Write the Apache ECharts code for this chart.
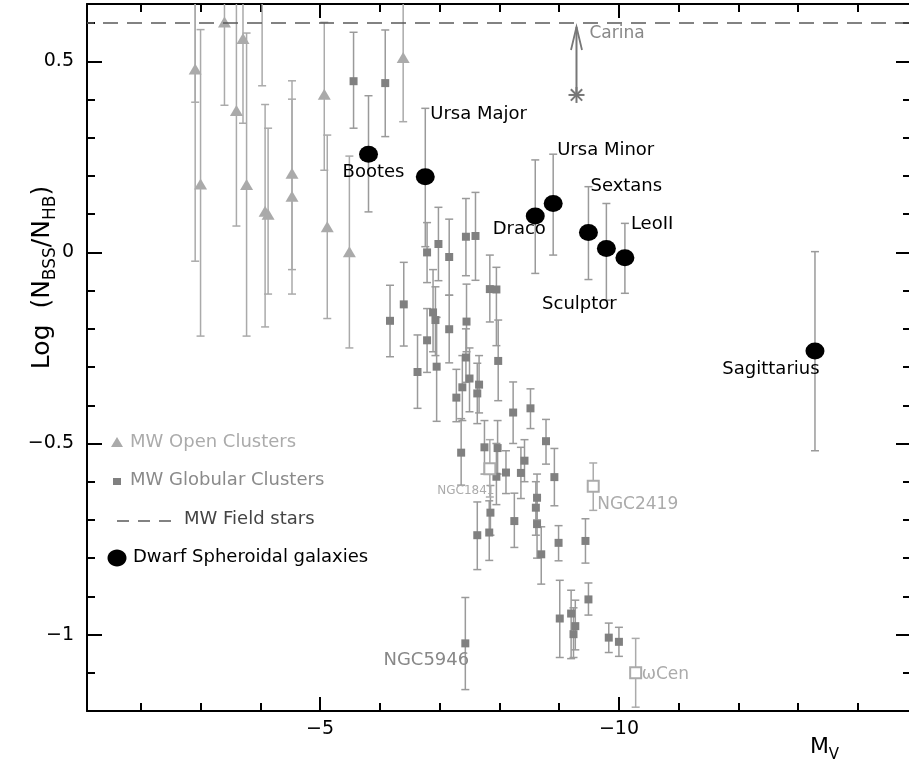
<!DOCTYPE html>
<html><head><meta charset="utf-8">
<script src="https://cdn.jsdelivr.net/npm/echarts@6/dist/echarts.min.js"></script>
<style>html,body{margin:0;padding:0;background:#fff}#c{width:909px;height:760px}</style>
</head><body><div id="c"></div>
<script>
// ---------- DATA ----------
// MW open clusters (triangles): Mv, log ratio, lower and upper error
const ocX  = [-2.91, -2.91, -3.00, -3.40, -3.60, -3.71, -3.77, -4.03, -4.08, -4.13, -4.53, -4.53, -5.07, -5.12, -5.49, -6.39];
const ocY  = [0.480, 0.750, 0.179, 0.603, 0.371, 0.560, 0.178, 0.720, 0.108, 0.100, 0.207, 0.147, 0.414, 0.067, 0.002, 0.510];
const ocLo = [-0.023, 0.393, -0.219, 0.385, 0.069, 0.338, -0.219, 0.436, -0.195, -0.109, -0.045, -0.109, 0.215, -0.173, -0.250, 0.342];
const ocHi = [0.980, 1.100, 0.583, 0.820, 0.670, 0.780, 0.574, 1.000, 0.387, 0.325, 0.449, 0.401, 0.602, 0.307, 0.252, 0.680];

// MW globular clusters (filled squares)
const gcX  = [-5.56, -6.09, -6.17, -6.40, -6.63, -6.79, -6.98, -7.16, -7.16, -7.44, -7.60, -7.45, -6.89, -6.93, -6.79, -6.95, -7.28, -7.38, -7.50, -7.63, -7.66, -7.98, -7.84, -7.95, -8.23, -8.52, -8.78, -8.92, -7.36, -7.75, -7.97, -7.95, -8.11, -8.36, -8.42, -8.63, -8.61, -8.63, -8.25, -7.85, -7.83, -7.63, -8.70, -8.99, -9.44, -9.49, -9.01, -9.20, -9.27, -9.24, -9.83, -10.00, -7.44];
const gcY  = [0.448, 0.443, -0.179, -0.136, -0.313, 0.000, 0.022, -0.012, -0.201, 0.041, 0.043, -0.181, -0.157, -0.177, -0.230, -0.299, -0.380, -0.353, -0.330, -0.369, -0.346, -0.284, -0.096, -0.097, -0.419, -0.408, -0.494, -0.588, -0.524, -0.510, -0.512, -0.587, -0.576, -0.577, -0.545, -0.642, -0.668, -0.711, -0.703, -0.681, -0.733, -0.740, -0.790, -0.760, -0.755, -0.908, -0.958, -0.945, -0.978, -0.999, -1.008, -1.019, -0.275];
const gcLo = [0.325, 0.303, -0.273, -0.245, -0.408, -0.079, -0.074, -0.112, -0.289, -0.061, -0.073, -0.260, -0.260, -0.270, -0.314, -0.442, -0.443, -0.440, -0.417, -0.448, -0.420, -0.388, -0.182, -0.244, -0.500, -0.461, -0.554, -0.663, -0.609, -0.580, -0.580, -0.660, -0.631, -0.644, -0.600, -0.700, -0.740, -0.800, -0.772, -0.740, -0.806, -0.830, -0.868, -0.807, -0.813, -0.949, -1.060, -1.063, -1.040, -1.060, -1.047, -1.057, -0.340];
const gcHi = [0.576, 0.582, -0.086, -0.026, -0.216, 0.078, 0.118, 0.087, -0.112, 0.141, 0.157, -0.083, -0.045, -0.090, -0.147, -0.170, -0.306, -0.270, -0.250, -0.290, -0.270, -0.177, -0.007, -0.039, -0.339, -0.357, -0.437, -0.513, -0.435, -0.440, -0.440, -0.500, -0.519, -0.510, -0.490, -0.580, -0.600, -0.640, -0.630, -0.610, -0.650, -0.653, -0.718, -0.715, -0.697, -0.865, -0.858, -0.884, -0.910, -0.930, -0.970, -0.981, -0.200];

// Named filled globular cluster
const namedGcNames = ['NGC5946'];
const namedGcX  = [-7.43];
const namedGcY  = [-1.023];
const namedGcLo = [-1.144];
const namedGcHi = [-0.903];

// Named open-symbol clusters
const openGcNames = ['NGC1841', 'NGC2419', 'ωCen'];
const openGcX  = [-7.84, -9.57, -10.28];
const openGcY  = [-0.566, -0.612, -1.100];
const openGcLo = [-0.640, -0.675, -1.190];
const openGcHi = [-0.490, -0.551, -1.010];

// Dwarf spheroidal galaxies
const dsphNames = ['Bootes', 'Ursa Major', 'Draco', 'Ursa Minor', 'Sextans', 'Sculptor', 'LeoII', 'Sagittarius'];
const dsphX  = [-5.81, -6.76, -8.60, -8.90, -9.49, -9.79, -10.10, -13.28];
const dsphY  = [0.257, 0.198, 0.095, 0.128, 0.052, 0.010, -0.014, -0.258];
const dsphLo = [0.106, 0.015, -0.055, -0.007, -0.071, -0.125, -0.107, -0.519];
const dsphHi = [0.410, 0.377, 0.242, 0.257, 0.172, 0.128, 0.076, 0.002];

// Carina (lower limit)
const carinaName = 'Carina';
const carinaX = [-9.29];
const carinaY = [0.412];
const carinaLimit = [0.59];

// MW field stars level
const fieldStarsLevel = 0.6;

// Axis ticks
const xMajorTicks = [-5, -10];
const xMinorTicks = [-2, -3, -4, -6, -7, -8, -9, -11, -12, -13, -14];
const yMajorTicks = [-1, -0.5, 0, 0.5];
const yMinorTicks = [-1.1, -0.9, -0.8, -0.7, -0.6, -0.4, -0.3, -0.2, -0.1, 0.1, 0.2, 0.3, 0.4, 0.6];

// ---------- STYLE / LAYOUT ----------
const X_MIN = -14.87, X_MAX = -1.10, Y_MIN = -1.2, Y_MAX = 0.65;
const FONT = 'DejaVu Sans';
const OC_COLOR = '#aaaaaa', GC_COLOR = '#808080', GC_BAR = '#9a9a9a', LIGHT = '#ababab';

const dsphLabelStyle = [
  {align: 'center', offset: [5, 18]},
  {align: 'left', offset: [5, -62]},
  {align: 'center', offset: [-16, 13]},
  {align: 'left', offset: [4, -53]},
  {align: 'left', offset: [2, -46]},
  {align: 'center', offset: [-27, 56]},
  {align: 'left', offset: [6, -33]},
  {align: 'center', offset: [-44, 18]}
];
const openGcLabelStyle = [
  {align: 'center', offset: [-24, 22], fontSize: 12},
  {align: 'left', offset: [4, 18], fontSize: 17},
  {align: 'left', offset: [6, 2], fontSize: 17}
];
const namedGcLabelStyle = [{align: 'center', offset: [-39, 17], fontSize: 18}];

const minus = v => String(v).replace('-', '\u2212');

function xAx(pos, ticks, len, showLine, showLabel, extra) {
  return Object.assign({
    type: 'value', gridIndex: 0, position: pos, min: X_MIN, max: X_MAX, inverse: true,
    axisLine: {show: showLine, onZero: false, lineStyle: {color: '#000', width: 2}},
    axisTick: {show: true, inside: true, length: len, customValues: ticks, lineStyle: {color: '#000', width: 2}},
    axisLabel: {show: showLabel, customValues: ticks, formatter: minus, color: '#000', fontSize: 19, fontFamily: FONT, margin: 9},
    splitLine: {show: false}
  }, extra || {});
}
function yAx(pos, ticks, len, showLine, showLabel, extra) {
  return Object.assign({
    type: 'value', gridIndex: 0, position: pos, min: Y_MIN, max: Y_MAX,
    axisLine: {show: showLine, onZero: false, lineStyle: {color: '#000', width: 2}},
    axisTick: {show: true, inside: true, length: len, customValues: ticks, lineStyle: {color: '#000', width: 2}},
    axisLabel: {show: showLabel, customValues: ticks, formatter: minus, color: '#000', fontSize: 19, fontFamily: FONT, margin: 13},
    splitLine: {show: false}
  }, extra || {});
}

function errSeries(xs, lo, hi, color, z) {
  return {
    type: 'custom', clip: true, z: z, silent: true,
    data: xs.map((x, i) => [x, lo[i], hi[i]]),
    encode: {x: 0, y: [1, 2]},
    renderItem: function (params, api) {
      const x = api.value(0);
      const p1 = api.coord([x, api.value(2)]);
      const p2 = api.coord([x, api.value(1)]);
      const w = 4, st = {stroke: color, lineWidth: 1.5};
      return {type: 'group', children: [
        {type: 'line', shape: {x1: p1[0], y1: p1[1], x2: p2[0], y2: p2[1]}, style: st},
        {type: 'line', shape: {x1: p1[0] - w, y1: p1[1], x2: p1[0] + w, y2: p1[1]}, style: st},
        {type: 'line', shape: {x1: p2[0] - w, y1: p2[1], x2: p2[0] + w, y2: p2[1]}, style: st}
      ]};
    }
  };
}

function labeled(names, xs, ys, styles, color) {
  return xs.map((x, i) => ({
    value: [x, ys[i]],
    label: {show: true, position: 'inside', formatter: names[i], align: styles[i].align,
      verticalAlign: 'middle', offset: styles[i].offset, color: color,
      fontSize: styles[i].fontSize || 18, fontFamily: FONT}
  }));
}

const chart = echarts.init(document.getElementById('c'), null, {renderer: 'canvas'});
chart.setOption({
  animation: false,
  backgroundColor: '#fff',
  grid: {left: 87, top: 4, right: -1, bottom: 49, containLabel: false, outerBoundsMode: 'none'},
  xAxis: [
    xAx('bottom', xMajorTicks, 14, true, true, {
      name: '{m|M}{v|V}', nameLocation: 'middle', nameGap: 20, nameMoveOverlap: false,
      nameTextStyle: {padding: [0, 0, 0, 652], rich: {
        m: {fontSize: 22, fontFamily: FONT, color: '#000', lineHeight: 32, verticalAlign: 'middle'},
        v: {fontSize: 15, fontFamily: FONT, color: '#000', lineHeight: 32, verticalAlign: 'bottom'}
      }}
    }),
    xAx('bottom', xMinorTicks, 8, false, false),
    xAx('top', xMajorTicks, 14, true, false),
    xAx('top', xMinorTicks, 8, false, false)
  ],
  yAxis: [
    yAx('left', yMajorTicks, 15, true, true, {
      name: '{n|Log  (N}{s|BSS}{n|/N}{s|HB}{n|)}', nameLocation: 'middle', nameRotate: 90, nameGap: 28, nameMoveOverlap: false,
      nameTextStyle: {padding: [0, 0, 0, 160], rich: {
        n: {fontSize: 25, fontFamily: FONT, color: '#000', lineHeight: 34, verticalAlign: 'middle'},
        s: {fontSize: 17, fontFamily: FONT, color: '#000', lineHeight: 34, verticalAlign: 'bottom'}
      }}
    }),
    yAx('left', yMinorTicks, 8, false, false),
    yAx('right', yMajorTicks, 14, false, false),
    yAx('right', yMinorTicks, 7, false, false)
  ],
  series: [
    errSeries(ocX, ocLo, ocHi, OC_COLOR, 1),
    {type: 'scatter', z: 2, silent: true, clip: true, symbol: 'triangle', symbolSize: [13, 11],
      itemStyle: {color: OC_COLOR, opacity: 1},
      data: ocX.map((x, i) => [x, ocY[i]]),
      markLine: {silent: true, symbol: 'none', label: {show: false},
        lineStyle: {color: '#5a5a5a', type: [15, 9], width: 1.5},
        data: [{yAxis: fieldStarsLevel}]}},
    errSeries(gcX, gcLo, gcHi, GC_BAR, 3),
    errSeries(namedGcX, namedGcLo, namedGcHi, GC_BAR, 3),
    errSeries(openGcX, openGcLo, openGcHi, LIGHT, 3),
    {type: 'scatter', z: 4, silent: true, clip: true, symbol: 'rect', symbolSize: 8,
      itemStyle: {color: GC_COLOR, opacity: 1},
      data: gcX.map((x, i) => [x, gcY[i]])},
    {type: 'scatter', z: 4, silent: true, clip: true, symbol: 'rect', symbolSize: 8,
      itemStyle: {color: GC_COLOR, opacity: 1},
      data: labeled(namedGcNames, namedGcX, namedGcY, namedGcLabelStyle, '#888')},
    {type: 'scatter', z: 4, silent: true, clip: true, symbol: 'emptyRect', symbolSize: 11,
      itemStyle: {color: LIGHT, borderWidth: 1.5, opacity: 1},
      data: labeled(openGcNames, openGcX, openGcY, openGcLabelStyle, LIGHT)},
    errSeries(dsphX, dsphLo, dsphHi, '#9a9a9a', 5),
    {type: 'scatter', z: 6, silent: true, clip: true, symbol: 'circle', symbolSize: [19, 17],
      itemStyle: {color: '#000', opacity: 1},
      data: labeled(dsphNames, dsphX, dsphY, dsphLabelStyle, '#000')},
    {type: 'custom', z: 6, silent: true, clip: true,
      data: carinaX.map((x, i) => [x, carinaY[i], carinaLimit[i]]),
      encode: {x: 0, y: [1, 2]},
      renderItem: function (params, api) {
        const p = api.coord([api.value(0), api.value(1)]);
        const t = api.coord([api.value(0), api.value(2)]);
        const c = '#777', r = 8, kids = [];
        for (let k = 0; k < 4; k++) {
          const a = k * Math.PI / 4;
          kids.push({type: 'line', shape: {x1: p[0] - r * Math.cos(a), y1: p[1] - r * Math.sin(a), x2: p[0] + r * Math.cos(a), y2: p[1] + r * Math.sin(a)}, style: {stroke: c, lineWidth: 2}});
        }
        kids.push({type: 'line', shape: {x1: p[0], y1: p[1], x2: t[0], y2: t[1]}, style: {stroke: c, lineWidth: 2}});
        kids.push({type: 'polyline', shape: {points: [[t[0] - 5.5, t[1] + 23], [t[0], t[1]], [t[0] + 5.5, t[1] + 23]]}, style: {stroke: c, lineWidth: 1.8, fill: null}});
        kids.push({type: 'text', style: {x: p[0] + 13, y: t[1] + 7, text: carinaName, fill: '#888', font: '17px "DejaVu Sans"', verticalAlign: 'middle', align: 'left'}});
        return {type: 'group', children: kids};
      }}
  ],
  graphic: [
    {type: 'polygon', shape: {points: [[111, 447], [123, 447], [117, 437]]}, style: {fill: OC_COLOR}},
    {type: 'text', left: 130, top: 433, style: {text: 'MW Open Clusters', fill: LIGHT, font: '18px "DejaVu Sans"'}},
    {type: 'rect', shape: {x: 113, y: 478, width: 8, height: 7}, style: {fill: GC_COLOR}},
    {type: 'text', left: 130, top: 471, style: {text: 'MW Globular Clusters', fill: '#8a8a8a', font: '18px "DejaVu Sans"'}},
    {type: 'line', shape: {x1: 117, y1: 521, x2: 172, y2: 521}, style: {stroke: '#5a5a5a', lineWidth: 1.5, lineDash: [12, 9]}},
    {type: 'text', left: 184, top: 510, style: {text: 'MW Field stars', fill: '#444', font: '18px "DejaVu Sans"'}},
    {type: 'ellipse', shape: {cx: 117, cy: 558, rx: 9.5, ry: 8.5}, style: {fill: '#000'}},
    {type: 'text', left: 133, top: 548, style: {text: 'Dwarf Spheroidal galaxies', fill: '#000', font: '18px "DejaVu Sans"'}}
  ]
});
</script>
</body></html>
